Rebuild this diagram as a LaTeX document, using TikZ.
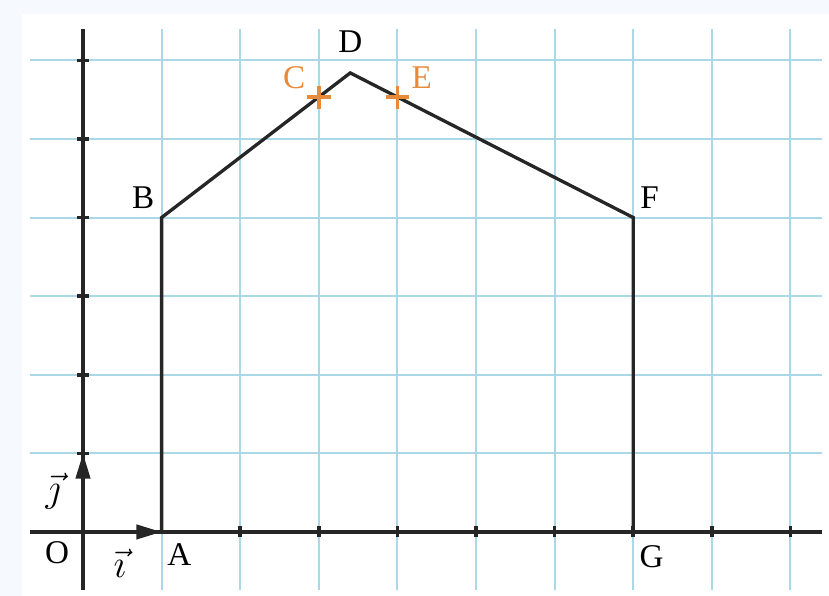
\documentclass[tikz,border=0pt]{standalone}
\usepackage{fontspec}
\setmainfont{Liberation Serif}
\usepackage{amsmath}
\usepackage{tikz}
\usetikzlibrary{positioning,arrows.meta,calc}
\definecolor{gridblue}{RGB}{170,216,230}
\definecolor{markorange}{RGB}{232,138,58}
\definecolor{paleback}{RGB}{246,249,253}
\tikzset{
  gridline/.style={gridblue,line width=0.75pt},
  axisline/.style={line width=1.3pt,black!85},
  tickmark/.style={line width=1.3pt,black!85},
  unitvec/.style={-{Triangle[length=0.32cm,width=0.18cm]},line width=1.3pt,black!85},
  poly/.style={line width=1.2pt,black!85,line join=miter},
  crossmark/.style={line width=1.3pt,markorange},
  lbl/.style={font=\large,inner sep=1pt,text=black},
  lblorange/.style={lbl,text=markorange},
}
\begin{document}
\begin{tikzpicture}
  \useasboundingbox (-1.056,-0.814) rectangle (9.491,6.768);
  \fill[paleback] (-1.056,-0.814) rectangle (9.491,6.768);
  \fill[white] (-0.776,-0.814) rectangle (9.491,6.59);
  % grid
  \foreach \x in {0,...,9}
    \draw[gridline] (\x,-0.74) -- (\x,6.40);
  \foreach \y in {0,...,6}
    \draw[gridline] (-0.674,\y) -- (9.40,\y);
  % axes
  \coordinate (O) at (0,0);
  \coordinate (xl) at (-0.674,0);
  \coordinate (xr) at (9.40,0);
  \coordinate (yb) at (0,-0.74);
  \coordinate (yt) at (0,6.40);
  \draw[axisline] (xl) -- (xr);
  \draw[axisline] (yb) -- (yt);
  \foreach \x in {2,...,9}
    \draw[tickmark] (\x,-0.07) -- (\x,0.07);
  \foreach \y in {1,...,6}
    \draw[tickmark] (-0.07,\y) -- (0.07,\y);
  % points
  \coordinate (A) at (1,0);
  \coordinate (B) at (1,4);
  \coordinate (C) at (3,5.53);
  \coordinate (D) at (3.4,5.84);
  \coordinate (E) at (4,5.53);
  \coordinate (F) at (7,4);
  \coordinate (G) at (7,0);
  \coordinate (J) at (0,1);
  % unit vectors
  \draw[unitvec] (O) -- (A);
  \draw[unitvec] (O) -- (J);
  % house
  \draw[poly] (A) -- (B) -- (D) -- (F) -- (G);
  \foreach \p in {C,E}
    \draw[crossmark] ($(\p)+(-0.15,0)$) -- ($(\p)+(0.15,0)$)
                     ($(\p)+(0,-0.15)$) -- ($(\p)+(0,0.15)$);
  % labels
  \node[lbl] (labO) at (-0.33,-0.27) {O};
  \node[lbl,font=\Large] (labi) at (0.47,-0.40) {$\vec{\imath}$};
  \node[lbl,font=\Large] (labj) at (-0.38,0.52) {$\vec{\jmath}$};
  \node[lbl,below right=0.1cm and 0.03cm of A] (labA) {A};
  \node[lbl,above left=0.07cm and 0.05cm of B] (labB) {B};
  \node[lbl,above=0.22cm of D] (labD) {D};
  \node[lblorange,above left=0.07cm and 0.13cm of C] (labC) {C};
  \node[lblorange,above right=0.07cm and 0.14cm of E] (labE) {E};
  \node[lbl,above right=0.07cm and 0.05cm of F] (labF) {F};
  \node[lbl,below right=0.13cm and 0.04cm of G] (labG) {G};
\end{tikzpicture}
\end{document}
